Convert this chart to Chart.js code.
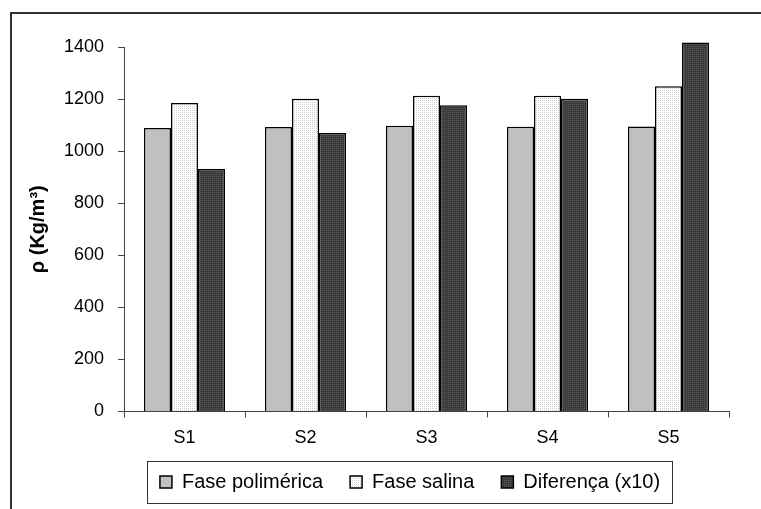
<!DOCTYPE html>
<html lang="pt">
<head>
  <meta charset="UTF-8" />
  <title>Densidade das fases</title>
  <script src="https://cdn.jsdelivr.net/npm/chart.js"></script>
  <style>
    body { margin: 0; background: white; }
    canvas { display: block; }
  </style>
</head>
<body>
  <canvas id="densidade" width="761" height="509"></canvas>
  <script>
    // valores (kg/m3)
    const amostras = ["S1", "S2", "S3", "S4", "S5"];
    const fasePolimerica = [1089, 1093, 1098, 1094, 1095];
    const faseSalina = [1185, 1201, 1213, 1213, 1249];
    const diferenca = [931, 1070, 1176, 1201, 1417];
    const nomes = ["Fase polimérica", "Fase salina", "Diferença (x10)"];
    const yMin = 0, yMax = 1400, yStep = 200;
    const yTitulo = "ρ (Kg/m³)";

    Chart.defaults.font.family = "Arial, 'Liberation Sans', sans-serif";
    Chart.defaults.color = "#000";

    const canvas = document.getElementById("densidade");
    const ctx = canvas.getContext("2d");

    function pontilhado(fundo, ponto) {
      const c = document.createElement("canvas");
      c.width = 2; c.height = 2;
      const g = c.getContext("2d");
      g.fillStyle = fundo;
      g.fillRect(0, 0, 2, 2);
      g.fillStyle = ponto;
      g.fillRect(0, 0, 1, 1);
      return ctx.createPattern(c, "repeat");
    }

    // moldura cortada (so esquerda e topo aparecem)
    const moldura = {
      id: "moldura",
      beforeDraw(chart) {
        const c = chart.ctx;
        c.save();
        c.strokeStyle = "#333";
        c.lineWidth = 2;
        c.beginPath();
        c.moveTo(11, chart.height);
        c.lineTo(11, 13);
        c.lineTo(chart.width, 13);
        c.stroke();
        c.restore();
      }
    };

    // legenda deslocada e com caixa
    const caixaLegenda = {
      id: "caixaLegenda",
      afterLayout(chart) {
        const lg = chart.legend;
        const centro = 410;
        lg.left = centro - 330;
        lg.right = centro + 330;
        lg.top -= 3;
        lg.bottom -= 3;
      },
      afterDraw(chart) {
        const boxes = chart.legend.legendHitBoxes;
        if (!boxes || !boxes.length) return;
        let l = Infinity, r = -Infinity;
        boxes.forEach(b => { l = Math.min(l, b.left); r = Math.max(r, b.left + b.width); });
        const meio = boxes[0].top + boxes[0].height / 2;
        const c = chart.ctx;
        c.save();
        c.strokeStyle = "#333";
        c.lineWidth = 1;
        c.strokeRect(Math.round(l - 13) + 0.5, Math.round(meio - 21) + 0.5, Math.round(r - l + 25), 42);
        c.restore();
      }
    };

    const serie = (label, data, cor) => ({
      label: label,
      data: data,
      backgroundColor: cor,
      borderColor: "#000",
      borderWidth: 1.5,
      categoryPercentage: 0.67,
      barPercentage: 1.0,
      clip: false
    });

    new Chart(ctx, {
      type: "bar",
      data: {
        labels: amostras,
        datasets: [
          serie(nomes[0], fasePolimerica, "#c0c0c0"),
          serie(nomes[1], faseSalina, pontilhado("#ffffff", "#cfcfcf")),
          serie(nomes[2], diferenca, pontilhado("#3a3a3a", "#575757"))
        ]
      },
      options: {
        responsive: false,
        animation: false,
        layout: { padding: { top: 47, right: 32, bottom: 4, left: 0 } },
        plugins: {
          tooltip: { enabled: false },
          legend: {
            position: "bottom",
            labels: { boxWidth: 12, boxHeight: 12, padding: 27, font: { size: 20 } }
          }
        },
        scales: {
          x: {
            grid: { drawOnChartArea: false, tickLength: 6, color: "#444", offset: true },
            border: { color: "#444" },
            ticks: { font: { size: 18 }, padding: 10 },
            afterFit(scale) { scale.height = 36.5; }
          },
          y: {
            min: yMin,
            max: yMax,
            ticks: { stepSize: yStep, font: { size: 18 }, padding: 14, callback: v => String(v) },
            grid: { drawOnChartArea: false, tickLength: 6, color: "#444" },
            border: { color: "#444" },
            title: {
              display: true,
              text: yTitulo,
              font: { size: 20, weight: "bold" },
              padding: { top: 26, bottom: 0 }
            },
            afterFit(scale) { scale.width = 124; }
          }
        }
      },
      plugins: [moldura, caixaLegenda]
    });
  </script>
</body>
</html>
